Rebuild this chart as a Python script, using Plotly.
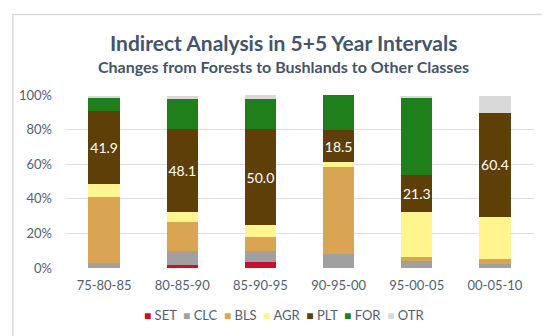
import plotly.graph_objects as go

periods = ["75-80-85", "80-85-90", "85-90-95", "90-95-00", "95-00-05", "00-05-10"]
SET = [0.0, 1.5, 3.3, 0.0, 0.0, 0.0]
CLC = [2.9, 8.1, 6.4, 8.3, 4.2, 2.3]
BLS = [38.0, 17.0, 8.1, 50.0, 1.9, 2.9]
AGR = [7.7, 5.8, 6.8, 2.9, 26.3, 24.1]
PLT = [42.1, 48.2, 56.0, 18.5, 21.2, 60.5]
FOR = [8.1, 17.0, 17.0, 20.3, 45.0, 0.0]
OTR = [0.9, 2.1, 2.3, 0.0, 1.0, 9.8]
plt_labels = ["41.9", "48.1", "50.0", "18.5", "21.3", "60.4"]

series_names = ["SET", "CLC", "BLS", "AGR", "PLT", "FOR", "OTR"]
series_values = [SET, CLC, BLS, AGR, PLT, FOR, OTR]
colors = ["#C8102E", "#A0A0A0", "#D9A552", "#FFF58F", "#5E3F07", "#1F7F1B", "#D9D9D9"]

FONT = "Lato"
TITLE_C = "#44546A"
TICK_C = "#525E72"

fig = go.Figure()
for name, vals, col in zip(series_names, series_values, colors):
    kw = {}
    if name == "PLT":
        kw = dict(text=plt_labels, textposition="inside", insidetextanchor="middle",
                  textangle=0, constraintext="none",
                  textfont=dict(color="white", size=14, family=FONT), texttemplate="%{text}")
    fig.add_trace(go.Bar(x=periods, y=vals, name=name, marker=dict(color=col, line=dict(width=0)),
                         showlegend=False, hoverinfo="x+y+name", **kw))

# legend built from the series names/colours
legend_txt = "  ".join(
    f"<span style='color:{c};font-size:12px'>■</span> {n}" for n, c in zip(series_names, colors)
)

fig.update_layout(
    width=550, height=336,
    barmode="stack", bargap=0.6,
    paper_bgcolor="white", plot_bgcolor="white",
    margin=dict(l=57, r=24, t=87, b=76, autoexpand=False),
    font=dict(family=FONT, color=TICK_C, size=13),
    xaxis=dict(type="category", showgrid=False, showline=False, ticks="", ticklabelstandoff=8,
               tickfont=dict(size=13, color=TICK_C)),
    yaxis=dict(range=[0, 100], dtick=20, ticksuffix="%", gridcolor="#DCDFE4", gridwidth=1,
               zeroline=False, showline=False, ticklabelstandoff=12,
               tickfont=dict(size=13, color=TICK_C)),
    shapes=[dict(type="rect", xref="paper", yref="paper",
                 x0=-0.111, x1=1.032, y0=-0.397, y1=1.465,
                 line=dict(color="#D3D9E2", width=1.5), fillcolor="rgba(0,0,0,0)", layer="above")],
    annotations=[
        dict(text="<b>Indirect Analysis in 5+5 Year Intervals</b>", xref="paper", yref="paper",
             x=0.466, y=(260 - 35) / 173, xanchor="center", yanchor="middle", showarrow=False,
             font=dict(size=21, color=TITLE_C, family=FONT)),
        dict(text="<b>Changes from Forests to Bushlands to Other Classes</b>", xref="paper", yref="paper",
             x=0.466, y=(260 - 58) / 173, xanchor="center", yanchor="middle", showarrow=False,
             font=dict(size=16, color=TITLE_C, family=FONT)),
        dict(text=legend_txt, xref="paper", yref="paper", x=0.468, y=(260 - 307) / 173,
             xanchor="center", yanchor="middle", showarrow=False,
             font=dict(size=13, color=TICK_C, family=FONT)),
    ],
)

fig.write_html("out.html")
